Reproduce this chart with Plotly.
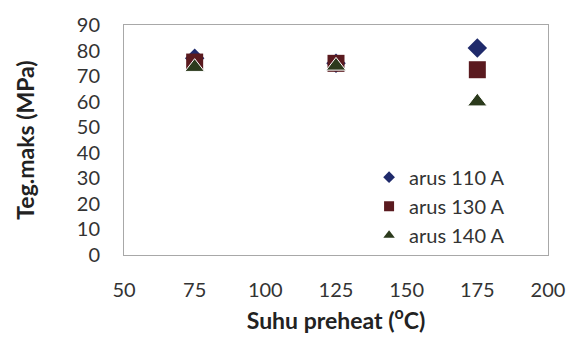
import plotly.graph_objects as go

# Preheat temperature (°C)
suhu = [75, 125, 175]

# Maximum stress (MPa) per welding current
arus_110 = [77, 75, 81]
arus_130 = [75.5, 75, 72.5]
arus_140 = [73.5, 74, 60]

series = [
    # name, values, symbol, colour, plot size, legend size, outline width, outline colour
    ("arus 110 A", arus_110, "diamond", "#1f2a6b", 15, 9, 0, "#1f2a6b"),
    ("arus 130 A", arus_130, "square", "#5a1a1f", 17, 10, 0, "#5a1a1f"),
    ("arus 140 A", arus_140, "triangle-up", "#2b3a1c", 17, 10, 1, "white"),
]

fig = go.Figure()
for name, vals, sym, col, size, lsize, lw, lc in series:
    fig.add_trace(go.Scatter(
        x=suhu, y=vals, mode="markers", name=name, showlegend=False,
        marker=dict(symbol=sym, color=col, size=size,
                    line=dict(width=lw, color=lc)),
    ))
# Legend entries with smaller symbols
for name, vals, sym, col, size, lsize, lw, lc in series:
    fig.add_trace(go.Scatter(
        x=[None], y=[None], mode="markers", name=name,
        marker=dict(symbol=sym, color=col, size=lsize),
    ))

tick_font = dict(family="Lato, 'Open Sans', sans-serif", color="#333", size=20)
title_font = dict(family="Lato, 'Open Sans', sans-serif", color="#222", size=23)

fig.update_layout(
    width=577, height=341,
    margin=dict(l=124, r=21, t=18, b=85),
    paper_bgcolor="white", plot_bgcolor="white",
    font=tick_font,
    showlegend=True,
    legend=dict(x=0.578, y=0.423, xanchor="left", yanchor="top",
                bgcolor="rgba(0,0,0,0)", font=dict(size=20, color="#333"),
                itemsizing="trace", tracegroupgap=0),
    xaxis=dict(range=[50, 200], tickvals=[50, 75, 100, 125, 150, 175, 200],
               showgrid=False, zeroline=False, showline=True,
               linecolor="#a8a8a8", linewidth=1, mirror=True,
               ticks="outside", ticklen=17, tickcolor="rgba(0,0,0,0)",
               tickfont=tick_font,
               title=dict(text="<b>Suhu preheat (<sup>o</sup>C)</b>",
                          font=title_font, standoff=12)),
    yaxis=dict(range=[0, 90], dtick=10, showgrid=False, zeroline=False,
               showline=True, linecolor="#a8a8a8", linewidth=1, mirror=True,
               ticks="outside", ticklen=19, tickcolor="rgba(0,0,0,0)",
               tickfont=tick_font,
               title=dict(text="<b>Teg.maks (MPa)</b>", font=title_font,
                          standoff=35)),
)

fig.write_html("out.html")
